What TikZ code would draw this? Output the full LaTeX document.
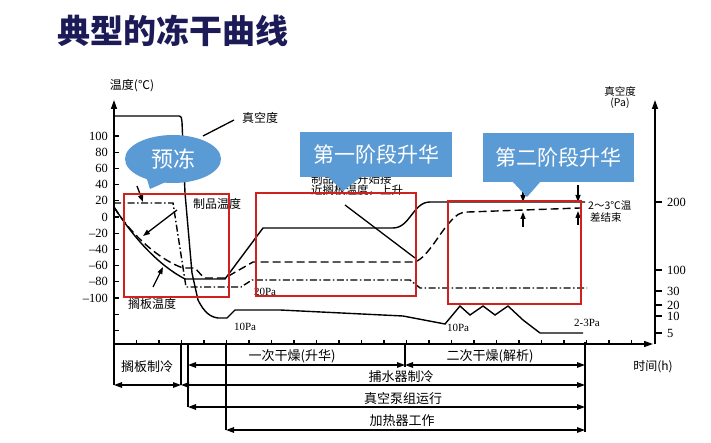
\documentclass[tikz,border=0pt]{standalone}
\usepackage{fontspec}
\setmainfont{Liberation Serif}
\newfontfamily\cjk{Noto Sans CJK SC}
\usetikzlibrary{arrows.meta,shapes.geometric}
\definecolor{calloutblue}{HTML}{5B9BD5}
\definecolor{boxred}{HTML}{D0211F}
\definecolor{titlenavy}{HTML}{1C1B57}
\tikzset{
  plotline/.style={line width=1.4pt, black},
  prodline/.style={plotline, dash pattern=on 8pt off 4pt},
  condline/.style={plotline, dash pattern=on 7pt off 2.5pt on 1.5pt off 2.5pt},
  axisline/.style={line width=1.4pt, -{Triangle[length=9pt,width=6pt]}},
  tickline/.style={line width=1.1pt},
  ptr/.style={line width=1.3pt, -{Triangle[length=7pt,width=5pt]}},
  lbl/.style={font=\cjk\fontsize{12}{12}\selectfont, inner sep=0pt},
  smalllbl/.style={font=\cjk\fontsize{10.5}{10.5}\selectfont, inner sep=0pt},
  num/.style={font=\fontsize{12.5}{12.5}\selectfont, inner sep=0pt},
  redbox/.style={draw=boxred, line width=2.7pt},
  bracketline/.style={line width=1.4pt},
  dimarrow/.style={line width=1.4pt, {Triangle[length=8pt,width=5.5pt]}-{Triangle[length=8pt,width=5.5pt]}},
  calltext/.style={text=white, font=\cjk\fontsize{21}{21}\selectfont},
}
\begin{document}
\begin{tikzpicture}[x=1pt,y=-1pt]
\useasboundingbox (0,0) rectangle (711,443);
\fill[white] (0,0) rectangle (711,443);

% title
\node[anchor=west, font=\cjk\bfseries\fontsize{33}{33}\selectfont, text=titlenavy, inner sep=0pt] (title) at (57,31) {典型的冻干曲线};

% axes
\coordinate (o) at (114,385);
\coordinate (ytop) at (114,100);
\draw[axisline] (o) -- (ytop);
\coordinate (t0) at (114,344);
\coordinate (tend) at (653,344);
\draw[axisline] (t0) -- (tend);
\coordinate (r0) at (655,344);
\coordinate (rtop) at (655,100);
\draw[axisline] (r0) -- (rtop);

% left ticks and labels
\foreach \v/\t [count=\i] in {100/100,80/80,60/60,40/40,20/20,0/0,-20/\textendash20,-40/\textendash40,-60/\textendash60,-80/\textendash80,-100/\textendash100}{
  \node[num, anchor=east] (yl\i) at (108,{217-0.81*\v}) {\t};
  \draw[tickline] (114,{217-0.81*\v}) -- (119,{217-0.81*\v});
}
\foreach \v in {-120,-140}{
  \draw[tickline] (114,{217-0.81*\v}) -- (119,{217-0.81*\v});
}
% right ticks and labels
\foreach \y/\t [count=\i] in {202/200,270/100,291/30,305/20,316/10,333/5}{
  \node[num, anchor=west] (rl\i) at (667,\y) {\t};
  \draw[tickline] (655,\y) -- (662,\y);
}
% time ticks
\foreach \k in {1,...,23}{
  \draw[tickline] ({114+22.5*\k},344) -- ({114+22.5*\k},339.5);
}

% axis titles
\node[lbl] (ytitle) at (132,86) {温度(℃)};
\node[smalllbl] (rtitle) at (620,91) {真空度};
\node[smalllbl] (rtitle2) at (620,103) {(Pa)};
\node[lbl] (ttitle) at (653,367) {时间(h)};

% vacuum curve
\draw[plotline] (114,116) -- (179,116) to[out=0,in=95] (182,122) -- (185,193) -- (192,273) -- (198,300)
  .. controls (204,312) and (210,317) .. (218,318) -- (227,318) -- (235,310) -- (280,310)
  -- (403,316) -- (445,324) -- (460,306) -- (470,315) -- (483,306) -- (495,315) -- (508,306)
  -- (523,320) -- (540,333) -- (583,333);
% shelf temperature
\draw[plotline] (114,207) .. controls (135,240) and (160,266) .. (185,279) -- (225,279) -- (263,228)
  -- (393,228) .. controls (410,228) and (413,202) .. (430,202) -- (585,202);
% product temperature
\draw[prodline] (114,207) .. controls (132,236) and (160,260) .. (183,268) -- (195,268) -- (204,278)
  -- (225,278) -- (253,262) -- (413,262) .. controls (425,262) and (440,232) .. (450,222)
  .. controls (456,215) and (460,212) .. (468,212) -- (580,208);
% condenser temperature
\draw[condline] (114,203) -- (173,203) -- (186,287) -- (241,287) -- (252,280) -- (410,280)
  -- (420,288) -- (587,288);

% labels on the plot
\node[lbl] (vaclbl) at (260,118) {真空度};
\coordinate (vacA) at (203,136);
\coordinate (vacB) at (234,120);
\draw[line width=1.3pt] (vacA) -- (vacB);
\node[lbl] (prodlbl) at (217,204) {制品温度};
\coordinate (prodA) at (177,210);
\coordinate (prodB) at (143,236);
\draw[ptr] (prodA) -- (prodB);
\node[lbl] (shelflbl) at (152,304) {搁板温度};
\coordinate (shelfA) at (153,287);
\coordinate (shelfB) at (163,267);
\draw[ptr] (shelfA) -- (shelfB);
\coordinate (condA) at (137,186);
\coordinate (condB) at (143,202);
\draw[ptr] (condA) -- (condB);

\node[lbl, anchor=west, font=\cjk\fontsize{11.5}{11.5}\selectfont] (near1) at (311,179) {制品温度开始接};
\node[lbl, anchor=west, font=\cjk\fontsize{11.5}{11.5}\selectfont] (near2) at (311,190) {近搁板温度，上升};
\coordinate (nearA) at (345,205);
\coordinate (nearB) at (415,258);
\draw[line width=1.3pt] (nearA) -- (nearB);

\node[num, font=\fontsize{11}{11}\selectfont] (p20) at (265,292) {20Pa};
\node[num, font=\fontsize{11}{11}\selectfont] (p10a) at (245,327) {10Pa};
\node[num, font=\fontsize{11}{11}\selectfont] (p10b) at (458,328) {10Pa};
\node[num, font=\fontsize{11}{11}\selectfont] (p23) at (587,323) {2-3Pa};
\node[smalllbl, anchor=west] (endlbl1) at (588,205) {2～3℃温};
\node[smalllbl, anchor=west] (endlbl2) at (590,218) {差结束};

% temperature difference arrows
\coordinate (d1a) at (523,191); \coordinate (d1b) at (523,202);
\coordinate (d1c) at (523,227); \coordinate (d1d) at (523,212);
\draw[ptr] (d1a) -- (d1b);
\draw[ptr] (d1c) -- (d1d);
\coordinate (d2a) at (578,185); \coordinate (d2b) at (578,202);
\coordinate (d2c) at (578,225); \coordinate (d2d) at (578,211);
\draw[ptr] (d2a) -- (d2b);
\draw[ptr] (d2c) -- (d2d);

% bottom brackets
\coordinate (v1) at (181,344); \coordinate (v1b) at (181,385);
\coordinate (v2) at (188,344); \coordinate (v2b) at (188,407);
\coordinate (v3) at (226,344); \coordinate (v3b) at (226,430);
\coordinate (v4) at (405,344); \coordinate (v4b) at (405,367);
\coordinate (v5) at (585,342); \coordinate (v5b) at (585,432);
\draw[bracketline] (v1) -- (v1b);
\draw[bracketline] (v2) -- (v2b);
\draw[bracketline] (v3) -- (v3b);
\draw[bracketline] (v4) -- (v4b);
\draw[bracketline] (v5) -- (v5b);
\draw[dimarrow] (114,385) -- (181,385);
\draw[dimarrow] (188,365) -- (405,365);
\draw[dimarrow] (405,365) -- (585,365);
\draw[dimarrow] (181,385) -- (585,385);
\draw[dimarrow] (188,407) -- (585,407);
\draw[dimarrow] (226,430) -- (585,430);

\node[lbl, font=\cjk\fontsize{13}{13}\selectfont] (r0lbl) at (147,367) {搁板制冷};
\node[lbl, font=\cjk\fontsize{13}{13}\selectfont] (r1lbl) at (292,356) {一次干燥(升华)};
\node[lbl, font=\cjk\fontsize{13}{13}\selectfont] (r2lbl) at (490,356) {二次干燥(解析)};
\node[lbl, font=\cjk\fontsize{13}{13}\selectfont] (r3lbl) at (401,377) {捕水器制冷};
\node[lbl, font=\cjk\fontsize{13}{13}\selectfont] (r4lbl) at (403,399) {真空泵组运行};
\node[lbl, font=\cjk\fontsize{13}{13}\selectfont] (r5lbl) at (402,421) {加热器工作};

% red boxes
\draw[redbox] (124,194) rectangle (229,297);
\draw[redbox] (256,193) rectangle (416,296);
\draw[redbox] (448,201) rectangle (581,304);

% callouts
\node[ellipse, fill=calloutblue, minimum width=96pt, minimum height=48pt, inner sep=0pt] (pre) at (173,159) {};
\fill[calloutblue] (146,176) -- (150,189) -- (168,181) -- cycle;
\node[calltext, font=\cjk\fontsize{22}{22}\selectfont] (pretext) at (173,159) {预冻};

\node[fill=calloutblue, minimum width=152pt, minimum height=45pt, inner sep=0pt, calltext] (c1) at (376,154.5) {第一阶段升华};
\fill[calloutblue] (327,176) -- (343,191) -- (362,176) -- cycle;

\node[fill=calloutblue, minimum width=151pt, minimum height=49pt, inner sep=0pt, calltext] (c2) at (558.5,157.5) {第二阶段升华};
\fill[calloutblue] (512,181) -- (527,197) -- (541,181) -- cycle;
\end{tikzpicture}
\end{document}
